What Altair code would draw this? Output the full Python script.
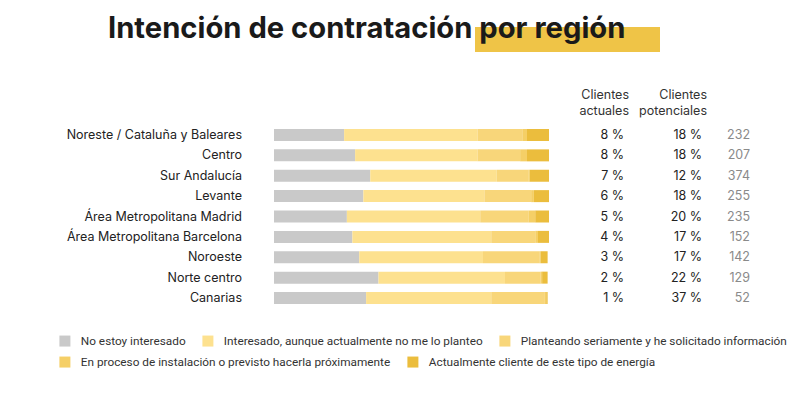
import altair as alt
import pandas as pd

regions = [
    "Noreste / Cataluña y Baleares",
    "Centro",
    "Sur Andalucía",
    "Levante",
    "Área Metropolitana Madrid",
    "Área Metropolitana Barcelona",
    "Noroeste",
    "Norte centro",
    "Canarias",
]
categories = [
    "No estoy interesado",
    "Interesado, aunque actualmente no me lo planteo",
    "Planteando seriamente y he solicitado información",
    "En proceso de instalación o previsto hacerla próximamente",
    "Actualmente cliente de este tipo de energía",
]
no_interesado = [25.5, 29.5, 35.0, 32.5, 26.5, 28.5, 31.0, 38.0, 33.5]
interesado = [48.5, 44.5, 46.0, 44.0, 48.5, 50.5, 45.0, 46.0, 45.5]
planteando = [16.5, 15.5, 11.5, 17.0, 17.5, 16.0, 20.5, 13.0, 19.5]
en_proceso = [1.5, 2.5, 0.5, 1.0, 2.5, 1.0, 0.5, 0.5, 0.5]
cliente = [8.0, 8.0, 7.0, 5.5, 5.0, 4.0, 2.5, 2.0, 0.5]

clientes_actuales = [8, 8, 7, 6, 5, 4, 3, 2, 1]
clientes_potenciales = [18, 18, 12, 18, 20, 17, 17, 22, 37]
muestra = [232, 207, 374, 255, 235, 152, 142, 129, 52]

colors = ["#c9c9c9", "#fde18f", "#f8d67a", "#f5cf66", "#ebbd3d"]

series = [no_interesado, interesado, planteando, en_proceso, cliente]
rows = []
for ci, (cat, vals) in enumerate(zip(categories, series)):
    for r, v in zip(regions, vals):
        rows.append({"region": r, "cat": cat, "order": ci, "value": v})
bars_df = pd.DataFrame(rows)

table_df = pd.DataFrame({
    "region": regions,
    "act": [f"{v} %" for v in clientes_actuales],
    "pot": [f"{v} %" for v in clientes_potenciales],
    "n": [str(v) for v in muestra],
})

FONT = "Inter"

yscale = alt.Scale(domain=regions, range=[116.8, 300.2], paddingInner=0.4, paddingOuter=0.2)
y_enc = alt.Y("region:N", sort=regions, scale=yscale, axis=None)
xscale = alt.Scale(domain=[0, 100], range=[266, 541])

legend_common = dict(
    orient="none", direction="horizontal", title=None, symbolType="square",
    symbolSize=121, symbolStrokeWidth=0, symbolOpacity=1,
    labelFont="Roboto", labelFontSize=11.8, labelColor="#333333",
    labelLimit=400, columnPadding=16, labelOffset=10, legendX=51,
)

base = alt.Chart(bars_df).transform_stack(
    stack="value", groupby=["region"], as_=["x0", "x1"],
    sort=[alt.SortField("order", order="ascending")],
)

bars_a = base.transform_filter(alt.datum.order < 3).mark_bar(size=12).encode(
    x=alt.X("x0:Q", scale=xscale, axis=None),
    x2="x1:Q",
    y=y_enc,
    color=alt.Color(
        "cat:N",
        scale=alt.Scale(domain=categories[:3], range=colors[:3]),
        legend=alt.Legend(legendY=327, **legend_common),
    ),
)
bars_b = base.transform_filter(alt.datum.order >= 3).mark_bar(size=12).encode(
    x=alt.X("x0:Q", scale=xscale, axis=None),
    x2="x1:Q",
    y=y_enc,
    fill=alt.Fill(
        "cat:N",
        scale=alt.Scale(domain=categories[3:], range=colors[3:]),
        legend=alt.Legend(legendY=348, **legend_common),
    ),
)

labels = alt.Chart(table_df).mark_text(
    align="right", baseline="middle", font=FONT, fontSize=12.5, color="#222222"
).encode(x=alt.value(234), y=y_enc, text="region:N")

act_txt = alt.Chart(table_df).mark_text(
    align="right", baseline="middle", font=FONT, fontSize=12.5, color="#222222"
).encode(x=alt.value(616), y=y_enc, text="act:N")

pot_txt = alt.Chart(table_df).mark_text(
    align="right", baseline="middle", font=FONT, fontSize=12.5, color="#222222"
).encode(x=alt.value(694), y=y_enc, text="pot:N")

n_txt = alt.Chart(table_df).mark_text(
    align="right", baseline="middle", font=FONT, fontSize=12.5, color="#8a8a8a"
).encode(x=alt.value(742), y=y_enc, text="n:N")

hdr_df = pd.DataFrame({"k": [0]})
hdr1 = alt.Chart(hdr_df).mark_text(
    align="right", baseline="middle", font=FONT, fontSize=12.5, color="#333333", lineHeight=16
).encode(x=alt.value(621), y=alt.value(87), text=alt.value(["Clientes", "actuales"]))
hdr2 = alt.Chart(hdr_df).mark_text(
    align="right", baseline="middle", font=FONT, fontSize=12.5, color="#333333", lineHeight=16
).encode(x=alt.value(699), y=alt.value(87), text=alt.value(["Clientes", "potenciales"]))

highlight = alt.Chart(hdr_df).mark_rect(color="#efc447").encode(
    x=alt.value(467), x2=alt.value(652), y=alt.value(19), y2=alt.value(44)
)
title = alt.Chart(hdr_df).mark_text(
    align="left", baseline="alphabetic", font=FONT, fontSize=29.2, fontWeight=700, color="#1a1a1a"
).encode(x=alt.value(100), y=alt.value(30), text=alt.value("Intención de contratación por región"))

chart = alt.layer(
    highlight, title, bars_a, bars_b, labels, act_txt, pot_txt, n_txt, hdr1, hdr2
).properties(
    width=784, height=387, padding=0,
    autosize=alt.AutoSizeParams(type="none"),
    background="white",
).configure_view(stroke=None)

chart.save("out.html", embed_options={"renderer": "svg", "actions": False})
